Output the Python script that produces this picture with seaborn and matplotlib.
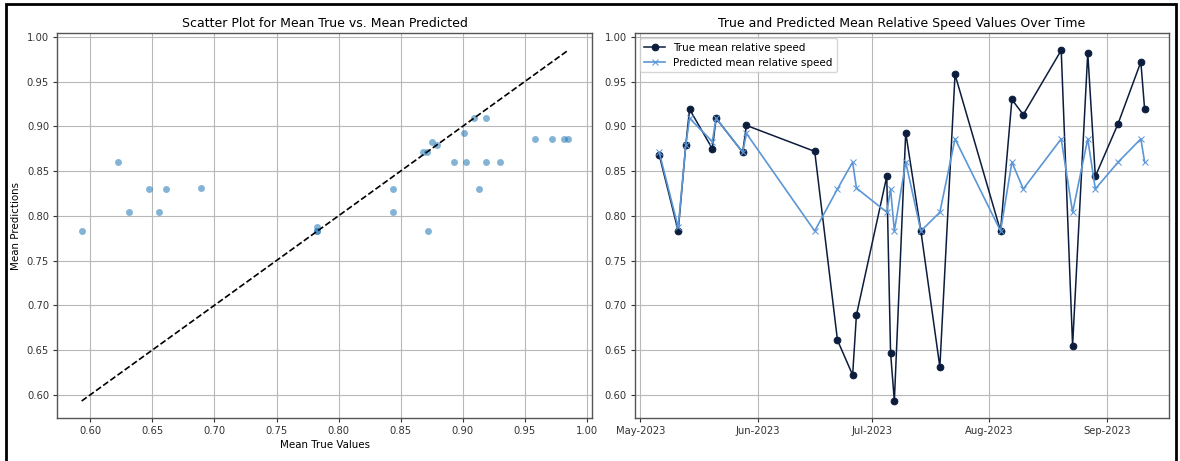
import numpy as np
import pandas as pd
import matplotlib
matplotlib.use("Agg")
import matplotlib.pyplot as plt
import matplotlib.dates as mdates
from matplotlib.patches import Rectangle
import seaborn as sns

# Daily mean relative speed: observed vs. model prediction
dates = [
    "2023-05-06", "2023-05-11", "2023-05-13", "2023-05-14", "2023-05-20",
    "2023-05-21", "2023-05-28", "2023-05-29", "2023-06-16", "2023-06-22",
    "2023-06-26", "2023-06-27", "2023-07-05", "2023-07-06", "2023-07-07",
    "2023-07-10", "2023-07-14", "2023-07-19", "2023-07-23", "2023-08-04",
    "2023-08-07", "2023-08-10", "2023-08-20", "2023-08-23", "2023-08-27",
    "2023-08-29", "2023-09-04", "2023-09-10", "2023-09-11",
]
true_mean = [
    0.868, 0.783, 0.879, 0.919, 0.875,
    0.909, 0.871, 0.901, 0.872, 0.661,
    0.622, 0.689, 0.844, 0.647, 0.593,
    0.893, 0.783, 0.631, 0.958, 0.783,
    0.930, 0.913, 0.985, 0.655, 0.982,
    0.844, 0.903, 0.972, 0.919,
]
pred_mean = [
    0.871, 0.787, 0.879, 0.909, 0.883,
    0.909, 0.871, 0.892, 0.783, 0.830,
    0.860, 0.831, 0.804, 0.830, 0.783,
    0.860, 0.783, 0.804, 0.886, 0.783,
    0.860, 0.830, 0.886, 0.804, 0.886,
    0.830, 0.860, 0.886, 0.860,
]

df = pd.DataFrame({
    "date": pd.to_datetime(dates),
    "true": true_mean,
    "pred": pred_mean,
})

plt.rcParams["font.family"] = ["DejaVu Sans"]
TICK = 7.2
LABEL = 7.4
TITLE = 9.0
LEGEND = 7.5

fig = plt.figure(figsize=(11.8, 4.61), dpi=100)
ax1 = fig.add_axes([0.0486, 0.0933, 0.4535, 0.8345])
ax2 = fig.add_axes([0.5381, 0.0933, 0.4525, 0.8345])

# Left: scatter of mean true vs. mean predicted with identity reference line
sns.scatterplot(data=df, x="true", y="pred", ax=ax1, color="#1f77b4",
                alpha=0.55, s=25, linewidth=0)
lo, hi = min(true_mean), max(true_mean)
ax1.plot([lo, hi], [lo, hi], "k--", linewidth=1.2)
ax1.set_title("Scatter Plot for Mean True vs. Mean Predicted",
              fontsize=TITLE, pad=4.5)
ax1.set_xlabel("Mean True Values", fontsize=LABEL)
ax1.set_ylabel("Mean Predictions", fontsize=LABEL)
ax1.yaxis.set_label_coords(-0.067, 0.5)
ax1.xaxis.set_label_coords(0.5, -0.056)
ax1.grid(True, color="#b8b8b8", linewidth=0.8)
ax1.set_axisbelow(True)

# Right: time series of both quantities
sns.lineplot(data=df, x="date", y="true", ax=ax2, color="#0b1c3d",
             marker="o", markersize=4.8, linewidth=1.1,
             markeredgecolor="#0b1c3d", label="True mean relative speed")
sns.lineplot(data=df, x="date", y="pred", ax=ax2, color="#5b96d6",
             marker="x", markersize=4.8, linewidth=1.2,
             markeredgecolor="#5b96d6", label="Predicted mean relative speed")
ax2.set_title("True and Predicted Mean Relative Speed Values Over Time",
              fontsize=TITLE, pad=4.5)
ax2.set_xlabel("")
ax2.set_ylabel("")
ax2.xaxis.set_major_locator(mdates.MonthLocator())
ax2.xaxis.set_major_formatter(mdates.DateFormatter("%b-%Y"))
ax2.grid(True, color="#b8b8b8", linewidth=0.8)
ax2.set_axisbelow(True)
ax2.legend(loc="upper left", fontsize=LEGEND, framealpha=0.8)

for ax in (ax1, ax2):
    ax.tick_params(labelsize=TICK, length=3, pad=3, colors="#333333")
    for sp in ax.spines.values():
        sp.set_color("#555555")
        sp.set_linewidth(1.0)

ax1.set_xticks(np.round(np.arange(0.60, 1.001, 0.05), 2))
for ax in (ax1, ax2):
    ax.set_yticks(np.round(np.arange(0.60, 1.001, 0.05), 2))
    ax.set_ylim(0.574, 1.004)
ax1.set_xlim(0.5734, 1.0046)

# Frame around the whole figure
fig.patches.append(Rectangle((6 / 1180, -0.02), 1170 / 1180, 1.0115,
                             transform=fig.transFigure, fill=False,
                             edgecolor="black", linewidth=2.0))

fig.savefig("out.png", dpi=100)
